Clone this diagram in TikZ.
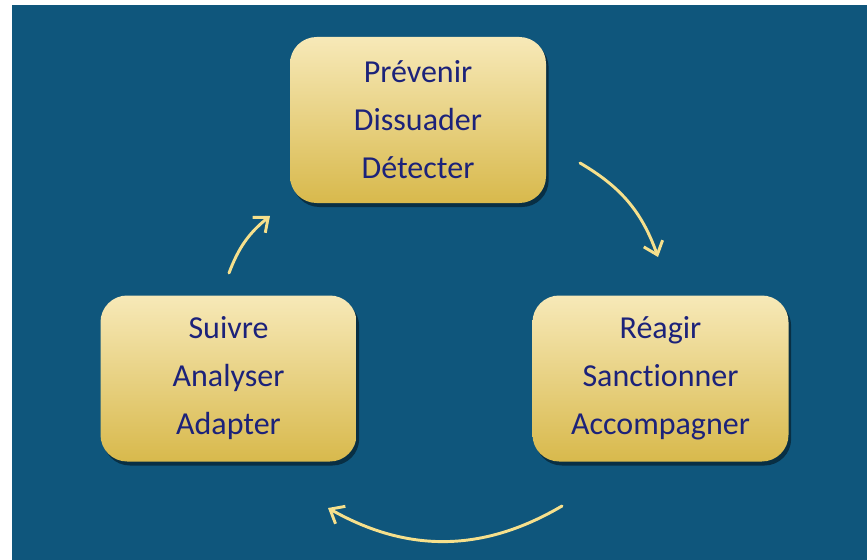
\documentclass[tikz,border=0pt]{standalone}
\usepackage{fontspec}
\setmainfont[Ligatures=NoCommon]{Carlito}
\usepackage{tikz}
\usetikzlibrary{arrows.meta,shadows}
\definecolor{fond}{RGB}{15,86,124}
\definecolor{ortop}{RGB}{247,233,184}
\definecolor{orbas}{RGB}{216,185,76}
\definecolor{encre}{RGB}{28,34,122}
\definecolor{fleche}{RGB}{246,224,140}

\begin{document}
\begin{tikzpicture}[x=0.75pt,y=-0.75pt,
  etape/.style={rectangle, rounded corners=20pt, top color=ortop, bottom color=orbas,
    minimum width=192pt, minimum height=124.5pt, align=center, text=encre,
    font=\fontsize{24}{36}\selectfont,
    drop shadow={shadow xshift=2pt, shadow yshift=-3pt, opacity=0.45, fill=black}},
  cycle/.style={draw=fleche, line width=2.2pt, line cap=round,
    -{Straight Barb[length=9pt,width=15pt,line width=2.2pt]}}]
\useasboundingbox (0,0) rectangle (867,560);
\fill[fond] (12,5) rectangle (867,560);
\node [etape] (prev) at (418,120) {Prévenir\\Dissuader\\Détecter};
\node [etape] (reag) at (660.5,378.5) {Réagir\\Sanctionner\\Accompagner};
\node [etape] (suiv) at (228.5,378.5) {Suivre\\Analyser\\Adapter};
\coordinate (a1) at (580,163); \coordinate (b1) at (658,257);
\coordinate (a2) at (562,506); \coordinate (b2) at (328,508);
\coordinate (a3) at (229,273); \coordinate (b3) at (270,216);
\draw [cycle] (a1) to[bend left=20] (b1);
\draw [cycle] (a2) to[bend left=30] (b2);
\draw [cycle] (a3) to[bend left=15] (b3);
\end{tikzpicture}
\end{document}
